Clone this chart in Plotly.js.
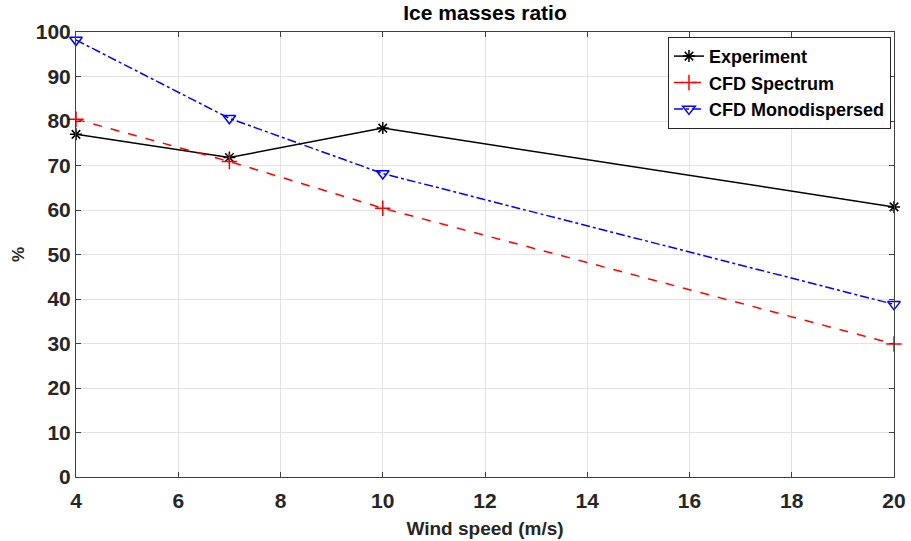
<!DOCTYPE html>
<html><head><meta charset="utf-8">
<script src="https://cdn.plot.ly/plotly-3.0.1.min.js"></script>
<style>html,body{margin:0;padding:0;background:#fff}#chart{width:911px;height:541px}</style>
</head><body><div id="chart"></div>
<script>
const windSpeed = [4, 7, 10, 20];
const experiment = [77.0, 71.8, 78.4, 60.7];
const cfdSpectrum = [80.4, 70.9, 60.4, 29.9];
const cfdMono = [98.2, 80.6, 68.2, 38.8];
const xTicks = [4, 6, 8, 10, 12, 14, 16, 18, 20];
const yTicks = [0, 10, 20, 30, 40, 50, 60, 70, 80, 90, 100];

const font = 'Liberation Sans, Arial, sans-serif';
const traces = [
  {x: windSpeed, y: experiment, name: 'Experiment', mode: 'lines+markers', cliponaxis: false,
   line: {color: '#000000', width: 1.5, dash: 'solid'},
   marker: {symbol: 'asterisk-open', size: 10, color: '#000000', line: {color: '#000000', width: 1.5}}},
  {x: windSpeed, y: cfdSpectrum, name: 'CFD Spectrum', mode: 'lines+markers', cliponaxis: false,
   line: {color: '#ff0000', width: 1.5, dash: 'dash'},
   marker: {symbol: 'cross-thin-open', size: 11, color: '#ff0000', line: {color: '#ff0000', width: 1.5}}},
  {x: windSpeed, y: cfdMono, name: 'CFD Monodispersed', mode: 'lines+markers', cliponaxis: false,
   line: {color: '#0000ff', width: 1.5, dash: 'dashdot'},
   marker: {symbol: 'triangle-down-open', size: 11, color: '#0000ff', line: {color: '#0000ff', width: 1.5}}}
];
const layout = {
  width: 911, height: 541,
  margin: {l: 76, r: 17, t: 32, b: 64},
  paper_bgcolor: '#ffffff', plot_bgcolor: '#ffffff',
  font: {family: font, color: '#262626'},
  title: {text: '<b>Ice masses ratio</b>', font: {size: 21, color: '#000000', family: font},
          x: 0.5, xanchor: 'center', xref: 'paper', y: 0.99, yanchor: 'top'},
  showlegend: true,
  legend: {x: 0.9963, y: 0.989, xanchor: 'right', yanchor: 'top', bgcolor: '#ffffff', bordercolor: '#262626', borderwidth: 1,
           font: {size: 18, color: '#000000', family: font, weight: 'bold'}, tracegroupgap: 0, itemwidth: 30},
  xaxis: {range: [4, 20], tickvals: xTicks, ticktext: xTicks.map(String), showgrid: true, gridcolor: '#e3e3e3', gridwidth: 1,
          showline: true, linecolor: '#404040', linewidth: 1, mirror: 'ticks', ticks: 'inside', ticklen: 5, tickcolor: '#404040',
          zeroline: false, ticklabelstandoff: 5, tickfont: {size: 21, color: '#262626', family: font, weight: 'bold'},
          title: {text: '<b>Wind speed (m/s)</b>', font: {size: 19, color: '#262626', family: font}, standoff: 10}},
  yaxis: {range: [0, 100], tickvals: yTicks, ticktext: yTicks.map(String), showgrid: true, gridcolor: '#e3e3e3', gridwidth: 1,
          showline: true, linecolor: '#404040', linewidth: 1, mirror: 'ticks', ticks: 'inside', ticklen: 5, tickcolor: '#404040',
          zeroline: false, tickfont: {size: 21, color: '#262626', family: font, weight: 'bold'},
          title: {text: '<b>%</b>', font: {size: 17, color: '#262626', family: font}, standoff: 6}}
};
Plotly.newPlot('chart', traces, layout, {displayModeBar: false});
</script></body></html>
